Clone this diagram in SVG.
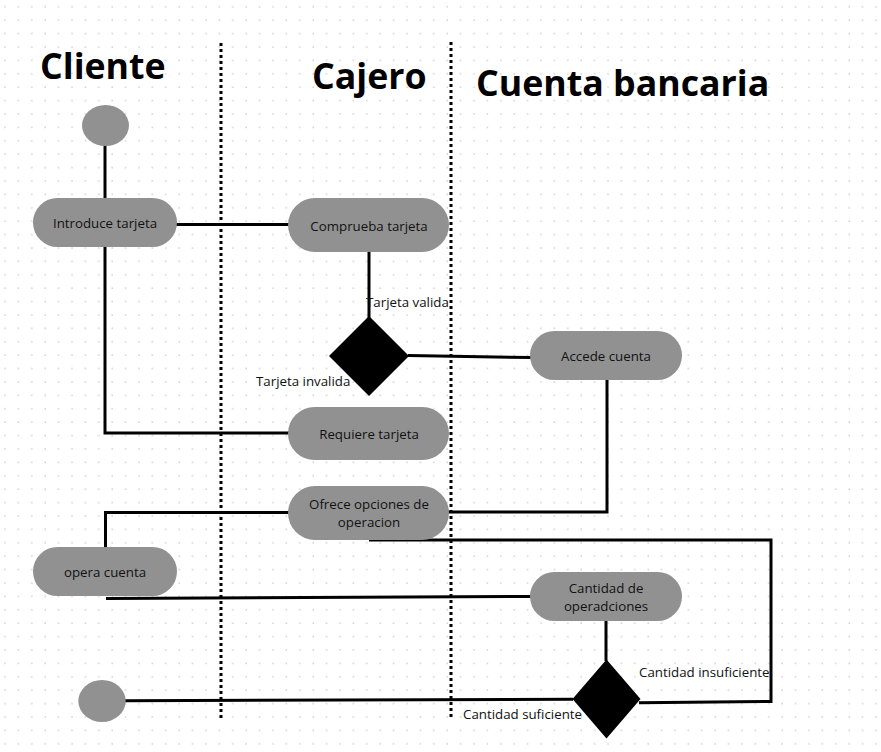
<svg xmlns="http://www.w3.org/2000/svg" width="881" height="752" viewBox="0 0 881 752">
<defs>
<pattern id="dots" x="0" y="0" width="13.4" height="13.4" patternUnits="userSpaceOnUse">
<circle cx="5" cy="6.8" r="0.9" fill="#cfcfcf"/>
</pattern>
<style>
.node{fill:#919191;stroke:none}
.dec{fill:#000;stroke:none}
.lbl{font-family:"Open Sans","Noto Sans","Liberation Sans",sans-serif;font-size:13.3px;fill:#111;text-anchor:middle}
.side{font-family:"Open Sans","Noto Sans","Liberation Sans",sans-serif;font-size:13.3px;fill:#111}
.head{font-family:"Open Sans","Noto Sans","Liberation Sans",sans-serif;font-size:35.7px;font-weight:bold;fill:#000}
.conn{fill:none;stroke:#000;stroke-width:3}
.lane{stroke:#000;stroke-width:3;stroke-dasharray:3 3}
</style>
</defs>
<rect width="881" height="752" fill="#fff"/>
<rect width="881" height="752" fill="url(#dots)"/>
<g id="lanes">
<line class="lane" x1="221" y1="43" x2="221" y2="718"/>
<line class="lane" x1="451" y1="42" x2="451" y2="717"/>
</g>
<g id="headers">
<text class="head" x="40" y="79">Cliente</text>
<text class="head" x="312" y="89">Cajero</text>
<text class="head" x="476" y="96">Cuenta bancaria</text>
</g>
<g id="connectors">
<line class="conn" x1="105" y1="145" x2="105" y2="199"/>
<line class="conn" x1="176" y1="224.5" x2="289" y2="224.5"/>
<line class="conn" x1="369" y1="251" x2="369" y2="318"/>
<line class="conn" x1="408" y1="355.5" x2="531" y2="357.5"/>
<polyline class="conn" points="105,246 105,433 289,433"/>
<polyline class="conn" points="607,379 607,512 448,512"/>
<polyline class="conn" points="289,512.5 105.5,512.5 105.5,548"/>
<polyline class="conn" points="369,540 771,540 771,701.5 639,702.8"/>
<line class="conn" x1="106" y1="598.5" x2="531" y2="596.5"/>
<line class="conn" x1="606" y1="620" x2="606" y2="661"/>
<line class="conn" x1="573" y1="699.3" x2="125" y2="700.7"/>
</g>
<g id="start"><ellipse class="node" cx="105.5" cy="125.5" rx="23.5" ry="20.5"/></g>
<g id="introduce"><rect class="node" x="33" y="198" width="144" height="49" rx="24.5"/><text class="lbl" x="105" y="228">Introduce tarjeta</text></g>
<g id="comprueba"><rect class="node" x="288" y="198" width="161" height="54" rx="27"/><text class="lbl" x="369" y="231">Comprueba tarjeta</text></g>
<g id="decision1"><polygon class="dec" points="369,316 409,356 369,396 329,356"/></g>
<g id="lbl-valida"><text class="side" x="366" y="307">Tarjeta valida</text></g>
<g id="lbl-invalida"><text class="side" x="256" y="386">Tarjeta invalida</text></g>
<g id="accede"><rect class="node" x="530" y="331" width="152" height="49" rx="24.5"/><text class="lbl" x="606" y="361">Accede cuenta</text></g>
<g id="requiere"><rect class="node" x="288" y="407" width="161" height="53" rx="26.5"/><text class="lbl" x="369" y="439">Requiere tarjeta</text></g>
<g id="ofrece"><rect class="node" x="288" y="486" width="161" height="54" rx="27"/><text class="lbl" x="369" y="509">Ofrece opciones de</text><text class="lbl" x="369" y="527">operacion</text></g>
<g id="opera"><rect class="node" x="33" y="547" width="144" height="49" rx="24.5"/><text class="lbl" x="105" y="577">opera cuenta</text></g>
<g id="cantidad"><rect class="node" x="530" y="572" width="152" height="49" rx="24.5"/><text class="lbl" x="606" y="593">Cantidad de</text><text class="lbl" x="606" y="611">operadciones</text></g>
<g id="decision2"><polygon class="dec" points="606.5,659.5 640.5,699 606.5,738.5 572.5,699"/></g>
<g id="lbl-insuf"><text class="side" x="639" y="677">Cantidad insuficiente</text></g>
<g id="lbl-suf"><text class="side" x="463" y="719">Cantidad suficiente</text></g>
<g id="end"><ellipse class="node" cx="102" cy="701" rx="23.7" ry="21"/></g>
</svg>
